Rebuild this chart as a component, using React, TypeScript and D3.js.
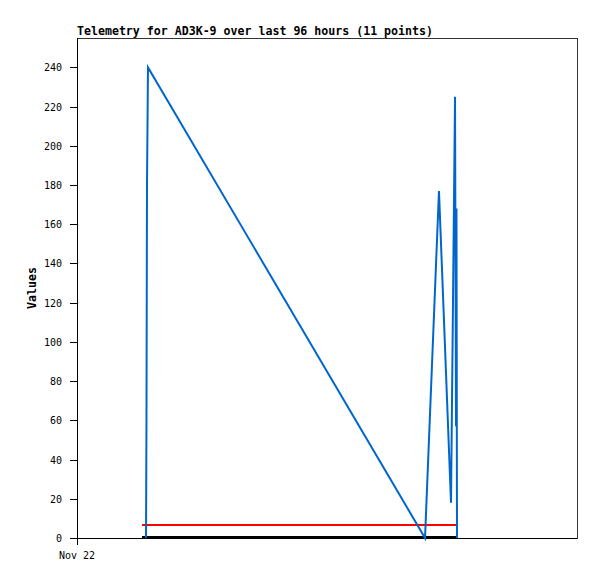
import React from "react";
import * as d3 from "d3";

const TITLE = "Telemetry for AD3K-9 over last 96 hours (11 points)";
const Y_LABEL = "Values";
const X_TICK_LABELS = ["Nov 22"];
const X_TICK_HOURS = [0];
const Y_TICKS = [0, 20, 40, 60, 80, 100, 120, 140, 160, 180, 200, 220, 240];

// hours since start of window
const pointHours = [13.25, 13.34, 13.44, 13.63, 66.82, 69.5, 71.81, 72.58, 72.77, 72.86, 72.96];
const pointValues = [0, 60, 180, 240, 0, 177, 18, 225, 57, 168, 0];

const refStartHour = 12.48;
const refEndHour = 72.96;
const refValue = 6.8;
const baseValue = 0;

export default function App() {
  const W = 597, H = 579;
  const left = 77, right = 577, top = 38, bottom = 538;
  const x = d3.scaleLinear().domain([0, 96]).range([left, right]);
  const y = d3.scaleLinear().domain([0, 255]).range([bottom, top]);
  const data = pointHours.map((h, i) => [h, pointValues[i]] as [number, number]);
  const line = d3.line<[number, number]>().x(d => x(d[0])).y(d => y(d[1]));
  const mono = "'DejaVu Sans Mono', monospace";
  return (
    <svg width={W} height={H} style={{ position: "absolute", left: 0, top: 0, background: "#fff" }}>
      <rect x={0} y={0} width={W} height={H} fill="#fff" />
      <text x={left} y={35} fontFamily={mono} fontWeight="bold" fontSize={11.6} fill="#000">{TITLE}</text>
      <rect x={left + 0.5} y={top + 0.5} width={right - left} height={bottom - top} fill="none" stroke="#333" strokeWidth={1} shapeRendering="crispEdges" />
      <line x1={left + 0.5} x2={left + 0.5} y1={top} y2={bottom + 7} stroke="#000" shapeRendering="crispEdges" />
      <line x1={left} x2={right} y1={bottom + 0.5} y2={bottom + 0.5} stroke="#000" shapeRendering="crispEdges" />
      {Y_TICKS.map(t => (
        <g key={t}>
          <line x1={left - 7} x2={left} y1={Math.round(y(t)) + 0.5} y2={Math.round(y(t)) + 0.5} stroke="#000" shapeRendering="crispEdges" />
          <text x={62} y={Math.round(y(t)) + 4} textAnchor="end" fontFamily={mono} fontSize={10} fill="#000">{t}</text>
        </g>
      ))}
      {X_TICK_HOURS.map((h, i) => (
        <text key={i} x={x(h)} y={559} textAnchor="middle" fontFamily={mono} fontSize={10} fill="#000">{X_TICK_LABELS[i]}</text>
      ))}
      <text transform={`translate(36,${(top + bottom) / 2}) rotate(-90)`} textAnchor="middle" fontFamily={mono} fontWeight="bold" fontSize={11.6} fill="#000">{Y_LABEL}</text>
      <line x1={x(refStartHour)} x2={x(refEndHour)} y1={y(baseValue) - 0.5} y2={y(baseValue) - 0.5} stroke="#000" strokeWidth={3} shapeRendering="crispEdges" />
      <line x1={x(refStartHour)} x2={x(refEndHour)} y1={y(refValue)} y2={y(refValue)} stroke="#ff0000" strokeWidth={2} shapeRendering="crispEdges" />
      <path d={line(data) || ""} fill="none" stroke="#0066cc" strokeWidth={2} strokeLinejoin="miter" />
    </svg>
  );
}
